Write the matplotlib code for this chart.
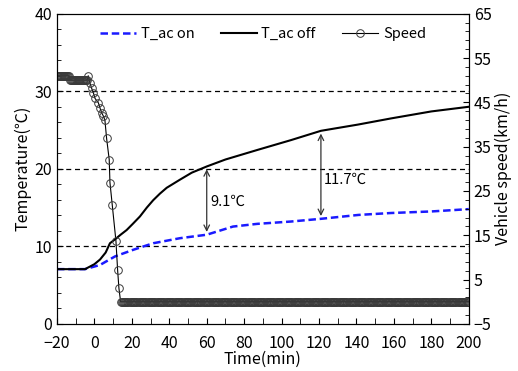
import numpy as np
import matplotlib
matplotlib.use('Agg')
import matplotlib.pyplot as plt
from matplotlib.ticker import MultipleLocator, AutoMinorLocator

plt.rcParams['font.family'] = ['Noto Sans CJK KR', 'DejaVu Sans']

# T_ac on (blue dashed)
t_on = [-20, -5, 3, 11, 20.7, 31.4, 45.7, 60, 74, 87, 105, 121, 141, 158.5, 180, 200]
T_on = [7.06, 7.06, 7.6, 8.7, 9.55, 10.4, 11.05, 11.5, 12.55, 12.9, 13.2, 13.55, 14.05, 14.3, 14.5, 14.8]

# T_ac off (black solid)
t_off = [-20, -5, 0, 3, 6, 8.3, 11, 14, 17.2, 20.5, 24.3, 28, 31.4, 35, 38.6, 45.7, 52, 60,
         70, 87.3, 105, 121, 140.7, 158.5, 180, 200]
T_off = [7.06, 7.06, 7.7, 8.3, 9.2, 10.4, 10.9, 11.5, 12.1, 12.9, 13.85, 15.0, 15.95, 16.8, 17.55,
         18.6, 19.5, 20.3, 21.2, 22.45, 23.7, 24.9, 25.7, 26.5, 27.4, 28.0]

# vehicle speed (km/h)
t_head = [-20, -19.5, -19, -18.5, -18, -17.5, -17, -16.5, -16, -15.5, -15, -14.5, -14, -13.5,
          -13, -12.5, -12, -11.5, -11, -10.5, -10, -9.5, -9, -8.5, -8, -7.5, -7, -6.5, -6,
          -5.5, -5, -4.5, -4, -3.3,
          -2.4, -1.5, -0.6, 0.3, 2.1, 3.0, 3.9, 4.8, 5.6, 6.5, 7.9, 8.3, 9.5, 11.5, 12.4, 13.1]
spd_head = [51, 51, 51, 51, 51, 51, 51, 51, 51, 51, 51, 51, 51, 51,
            50, 50, 50, 50, 50, 50, 50, 50, 50, 50, 50, 50, 50, 50, 50,
            50, 50, 50, 50, 51,
            49.3, 48.2, 47.2, 45.9, 44.9, 43.7, 42.6, 41.9, 41.0, 36.9, 32.1, 26.9, 21.9, 13.7, 7.1, 3.0]
t_stop = list(np.arange(14, 200.5, 0.6))
spd_stop = [0.0] * len(t_stop)

fig = plt.figure(figsize=(5.18, 3.71), dpi=100)
ax = fig.add_axes([0.110, 0.127, 0.795, 0.836])
ax2 = ax.twinx()

for y in [10, 20, 30]:
    ax.axhline(y, color='black', lw=0.9, ls=(0, (4, 3)), zorder=1)

l1, = ax.plot(t_on, T_on, color='#1a1aff', lw=1.8, ls=(0, (3, 1.5)), label='T_ac on', zorder=3)
l2, = ax.plot(t_off, T_off, color='black', lw=1.5, label='T_ac off', zorder=3)
l3, = ax2.plot(t_head + t_stop, spd_head + spd_stop, color='black', lw=0.8, marker='o',
               mfc='none', mec='#3a3a3a', ms=5.5, mew=0.7, label='Speed')

# difference arrows
ax.annotate('', xy=(60, 11.5), xytext=(60, 20.3),
            arrowprops=dict(arrowstyle='<->', color='#333333', lw=0.9))
ax.annotate('', xy=(121, 13.55), xytext=(121, 24.9),
            arrowprops=dict(arrowstyle='<->', color='#333333', lw=0.9))
ax.text(62, 15.7, '9.1℃', fontsize=10.5, va='center', ha='left')
ax.text(122.5, 18.6, '11.7℃', fontsize=10.5, va='center', ha='left')

ax.set_xlim(-20, 200)
ax.set_ylim(0, 40)
ax2.set_ylim(-5, 65)
ax.xaxis.set_major_locator(MultipleLocator(20))
ax.xaxis.set_minor_locator(MultipleLocator(10))
ax.yaxis.set_major_locator(MultipleLocator(10))
ax.yaxis.set_minor_locator(AutoMinorLocator(5))
ax2.yaxis.set_major_locator(MultipleLocator(10, offset=5))
ax2.yaxis.set_minor_locator(AutoMinorLocator(5))

for a in (ax, ax2):
    a.tick_params(which='both', direction='in', labelsize=11.5)
    a.tick_params(which='major', length=4)
    a.tick_params(which='minor', length=3)
ax.tick_params(axis='x', which='minor', length=4)
ax.tick_params(axis='x', pad=8)

ax.set_xlabel('Time(min)', fontsize=11.5, labelpad=-1)
ax.set_ylabel('Temperature(℃)', fontsize=11.5, labelpad=2)
ax2.set_ylabel('Vehicle speed(km/h)', fontsize=11.5, labelpad=2)

ax.legend(handles=[l1, l2, l3], loc='upper center', ncol=3, frameon=False,
          fontsize=10.5, bbox_to_anchor=(0.5, 1.0), handlelength=2.5,
          columnspacing=1.8, handletextpad=0.3)

fig.savefig('out.png', dpi=100)
